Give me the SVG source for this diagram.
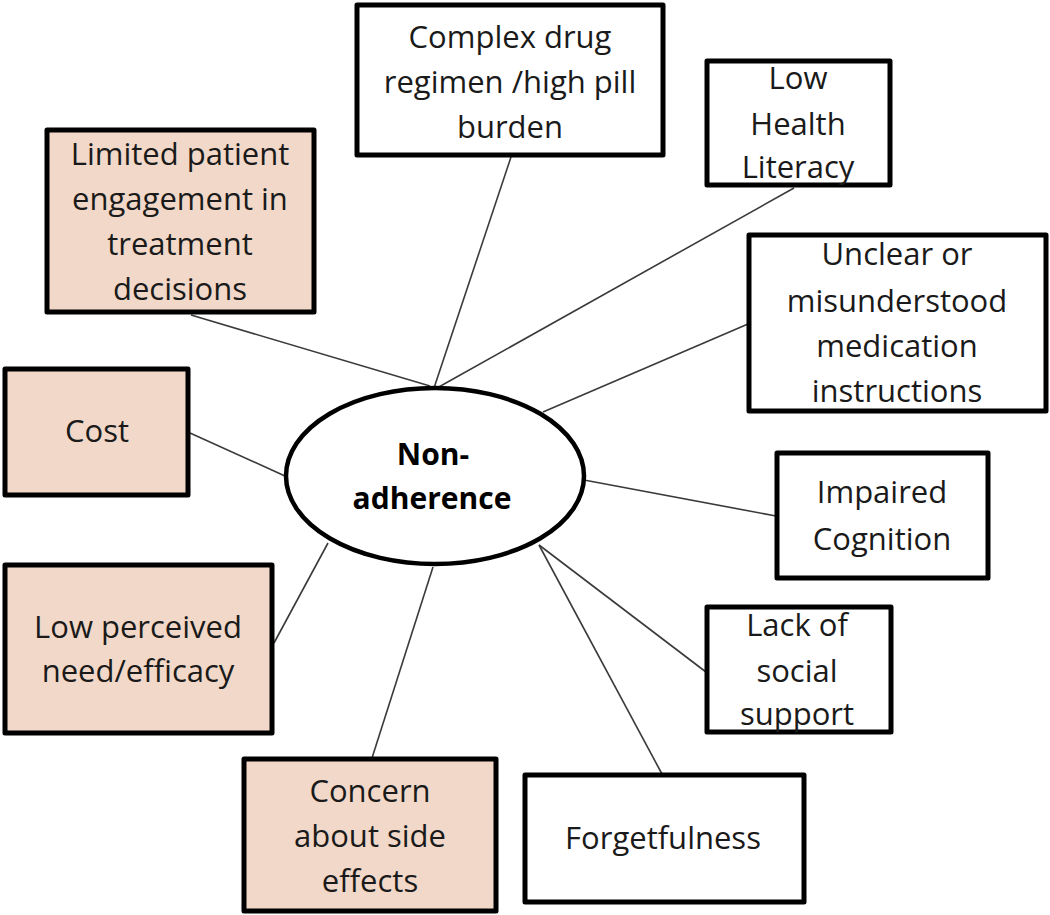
<svg xmlns="http://www.w3.org/2000/svg" width="1050" height="915" viewBox="0 0 1050 915">
<style>
.box{fill:#ffffff;stroke:#000;stroke-width:5;stroke-linejoin:round}
.pink{fill:#f1d8c8}
.t{font-family:"Open Sans","Liberation Sans",sans-serif;font-size:31px;fill:#1a1a1a;text-anchor:middle}
.b{font-family:"Open Sans","Liberation Sans",sans-serif;font-size:30px;font-weight:bold;fill:#000;text-anchor:middle}
.c{stroke:#3a3a3a;stroke-width:1.6;fill:none}
</style>
<rect width="1050" height="915" fill="#ffffff"/>
<g id="connectors">
<line class="c" x1="511" y1="157" x2="434" y2="388"/>
<line class="c" x1="794" y1="188" x2="437" y2="388"/>
<line class="c" x1="191" y1="315" x2="430" y2="386"/>
<line class="c" x1="748" y1="324" x2="543" y2="412"/>
<line class="c" x1="584" y1="480" x2="776" y2="516"/>
<line class="c" x1="539" y1="545" x2="706" y2="672"/>
<line class="c" x1="539" y1="545" x2="662" y2="774"/>
<line class="c" x1="190" y1="433" x2="285" y2="476"/>
<line class="c" x1="274" y1="643" x2="328" y2="543"/>
<line class="c" x1="372" y1="758" x2="433" y2="567"/>
</g>
<g id="center">
<ellipse cx="435" cy="476" rx="149" ry="88" fill="#fff" stroke="#000" stroke-width="4.5"/>
<text class="b" x="433" y="465">Non-</text>
<text class="b" x="432" y="509">adherence</text>
</g>
<g id="complex">
<rect class="box" x="357" y="5" width="306" height="150"/>
<text class="t" x="510" y="48">Complex drug</text>
<text class="t" x="510" y="93">regimen /high pill</text>
<text class="t" x="510" y="138">burden</text>
</g>
<g id="literacy">
<rect class="box" x="707" y="61" width="183" height="124"/>
<text class="t" x="798" y="89">Low</text>
<text class="t" x="798" y="135">Health</text>
<text class="t" x="798" y="178">Literacy</text>
</g>
<g id="unclear">
<rect class="box" x="749" y="235" width="297" height="176"/>
<text class="t" x="897" y="265">Unclear or</text>
<text class="t" x="897" y="312">misunderstood</text>
<text class="t" x="897" y="357">medication</text>
<text class="t" x="897" y="402">instructions</text>
</g>
<g id="engagement">
<rect class="box pink" x="47" y="130" width="267" height="182"/>
<text class="t" x="180" y="165">Limited patient</text>
<text class="t" x="180" y="210">engagement in</text>
<text class="t" x="180" y="255">treatment</text>
<text class="t" x="180" y="300">decisions</text>
</g>
<g id="cost">
<rect class="box pink" x="5" y="369" width="183" height="126"/>
<text class="t" x="97" y="442">Cost</text>
</g>
<g id="perceived">
<rect class="box pink" x="5" y="565" width="267" height="168"/>
<text class="t" x="138" y="638">Low perceived</text>
<text class="t" x="138" y="682">need/efficacy</text>
</g>
<g id="sideeffects">
<rect class="box pink" x="244" y="759" width="252" height="152"/>
<text class="t" x="370" y="802">Concern</text>
<text class="t" x="370" y="847">about side</text>
<text class="t" x="370" y="892">effects</text>
</g>
<g id="cognition">
<rect class="box" x="777" y="453" width="211" height="125"/>
<text class="t" x="882" y="503">Impaired</text>
<text class="t" x="882" y="550">Cognition</text>
</g>
<g id="social">
<rect class="box" x="707" y="607" width="184" height="125"/>
<text class="t" x="797" y="636">Lack of</text>
<text class="t" x="797" y="682">social</text>
<text class="t" x="797" y="725">support</text>
</g>
<g id="forgetfulness">
<rect class="box" x="525" y="775" width="279" height="127"/>
<text class="t" x="663" y="849">Forgetfulness</text>
</g>
</svg>
